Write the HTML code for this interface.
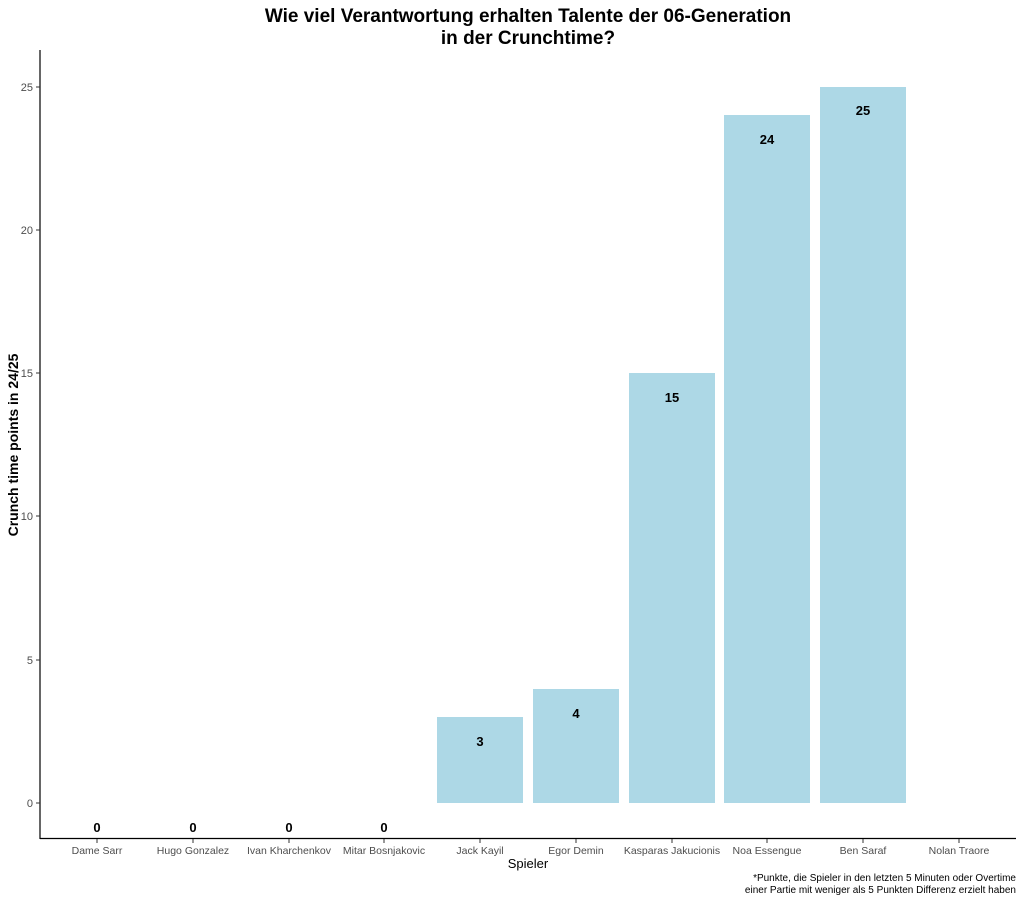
<!DOCTYPE html>
<html><head><meta charset="utf-8"><style>
body{margin:0;background:#fff;}
text{font-family:"Liberation Sans",Arial,sans-serif;}
</style></head><body>
<svg width="1023" height="904" xmlns="http://www.w3.org/2000/svg">
<rect width="1023" height="904" fill="#fff"/>
<text x="528" y="22" text-anchor="middle" font-size="19" font-weight="bold">Wie viel Verantwortung erhalten Talente der 06-Generation</text>
<text x="528" y="44" text-anchor="middle" font-size="19" font-weight="bold">in der Crunchtime?</text>
<g fill="#add8e6">
<rect x="437" y="717" width="86" height="86"/>
<rect x="533" y="689" width="86" height="114"/>
<rect x="629" y="373" width="86" height="430"/>
<rect x="724" y="115" width="86" height="688"/>
<rect x="820" y="87" width="86" height="716"/>
</g>
<g font-size="13" font-weight="bold" text-anchor="middle" fill="#000">
<text x="97" y="832">0</text><text x="193" y="832">0</text><text x="289" y="832">0</text><text x="384" y="832">0</text>
<text x="480" y="746">3</text><text x="576" y="718">4</text><text x="672" y="402">15</text><text x="767" y="144">24</text><text x="863" y="115">25</text>
</g>
<line x1="40" y1="50" x2="40" y2="839" stroke="#000" stroke-width="1.2"/>
<line x1="40" y1="838.5" x2="1016" y2="838.5" stroke="#000" stroke-width="1.2"/>
<g stroke="#333">
<line x1="36" y1="803" x2="40" y2="803"/><line x1="36" y1="660" x2="40" y2="660"/><line x1="36" y1="516" x2="40" y2="516"/><line x1="36" y1="373" x2="40" y2="373"/><line x1="36" y1="230" x2="40" y2="230"/><line x1="36" y1="87" x2="40" y2="87"/>
</g>
<g font-size="11" fill="#4d4d4d" text-anchor="end">
<text x="33" y="807">0</text><text x="33" y="664">5</text><text x="33" y="520">10</text><text x="33" y="377">15</text><text x="33" y="234">20</text><text x="33" y="91">25</text>
</g>
<g stroke="#333">
<line x1="97" y1="839" x2="97" y2="843"/><line x1="193" y1="839" x2="193" y2="843"/><line x1="289" y1="839" x2="289" y2="843"/><line x1="384" y1="839" x2="384" y2="843"/><line x1="480" y1="839" x2="480" y2="843"/><line x1="576" y1="839" x2="576" y2="843"/><line x1="672" y1="839" x2="672" y2="843"/><line x1="767" y1="839" x2="767" y2="843"/><line x1="863" y1="839" x2="863" y2="843"/><line x1="959" y1="839" x2="959" y2="843"/>
</g>
<g font-size="10.5" fill="#4d4d4d" text-anchor="middle">
<text x="97" y="854">Dame Sarr</text><text x="193" y="854">Hugo Gonzalez</text><text x="289" y="854">Ivan Kharchenkov</text><text x="384" y="854">Mitar Bosnjakovic</text><text x="480" y="854">Jack Kayil</text><text x="576" y="854">Egor Demin</text><text x="672" y="854">Kasparas Jakucionis</text><text x="767" y="854">Noa Essengue</text><text x="863" y="854">Ben Saraf</text><text x="959" y="854">Nolan Traore</text>
</g>
<text x="528" y="868" text-anchor="middle" font-size="13">Spieler</text>
<text transform="translate(18,445) rotate(-90)" text-anchor="middle" font-size="14" font-weight="bold">Crunch time points in 24/25</text>
<g font-size="10" text-anchor="end" fill="#000">
<text x="1016" y="881">*Punkte, die Spieler in den letzten 5 Minuten oder Overtime</text>
<text x="1016" y="893">einer Partie mit weniger als 5 Punkten Differenz erzielt haben</text>
</g>
</svg>
</body></html>
